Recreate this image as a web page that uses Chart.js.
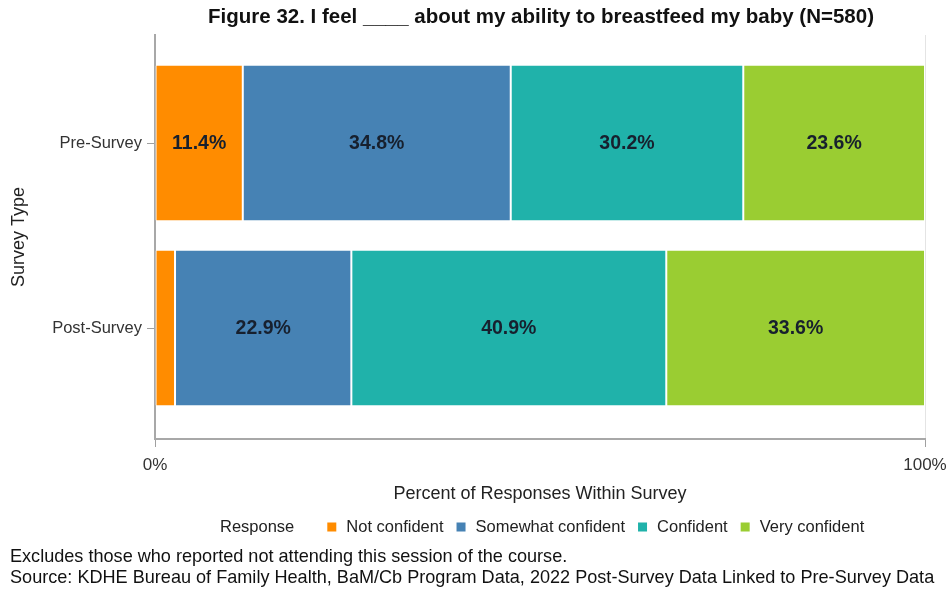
<!DOCTYPE html>
<html>
<head>
<meta charset="utf-8">
<script src="https://cdn.jsdelivr.net/npm/chart.js@4"></script>
<style>
html,body{margin:0;padding:0;background:#fff;}
#wrap{width:949px;height:592px;position:relative;}
</style>
</head>
<body>
<div id="wrap"><canvas id="c" width="949" height="592"></canvas></div>
<script>
// ---- data ----
const categories = ['Pre-Survey', 'Post-Survey'];
const seriesNames = ['Not confident', 'Somewhat confident', 'Confident', 'Very confident'];
const notConfident = [11.4, 2.6];
const somewhatConfident = [34.8, 22.9];
const confident = [30.2, 40.9];
const veryConfident = [23.6, 33.6];
const xTickValues = [0, 100];
const xTickLabels = ['0%', '100%'];

const titleText = 'Figure 32. I feel ____ about my ability to breastfeed my baby (N=580)';
const xTitle = 'Percent of Responses Within Survey';
const yTitle = 'Survey Type';
const legendTitle = 'Response';
const footnotes = [
  'Excludes those who reported not attending this session of the course.',
  'Source: KDHE Bureau of Family Health, BaM/Cb Program Data, 2022 Post-Survey Data Linked to Pre-Survey Data'
];

const colors = ['#FF8C00', '#4682B4', '#20B2AA', '#9ACD32'];
const FONT = "Arial, 'Liberation Sans', sans-serif";

const allSeries = [notConfident, somewhatConfident, confident, veryConfident];
const datasets = allSeries.map((vals, k) => ({
  label: seriesNames[k],
  data: vals.map((v, i) => ({x: v, y: i})),
  backgroundColor: colors[k],
  borderColor: '#ffffff',
  borderWidth: {left: 1, right: 1, top: 0, bottom: 0},
  borderSkipped: false,
  categoryPercentage: 0.838,
  barPercentage: 1.0
}));

const labelPlugin = {
  id: 'barLabels',
  afterDatasetsDraw(chart) {
    const ctx = chart.ctx;
    ctx.save();
    ctx.font = 'bold 19.5px ' + FONT;
    ctx.fillStyle = '#17202e';
    ctx.textAlign = 'center';
    ctx.textBaseline = 'middle';
    chart.data.datasets.forEach((ds, di) => {
      const meta = chart.getDatasetMeta(di);
      meta.data.forEach((el, i) => {
        const v = ds.data[i].x;
        if (v < 5) return;
        const c = el.getCenterPoint();
        ctx.fillText(v.toFixed(1) + '%', c.x, c.y + 1);
      });
    });
    ctx.restore();
  }
};

const decorPlugin = {
  id: 'decor',
  afterDraw(chart) {
    const ctx = chart.ctx;
    ctx.save();
    // title
    ctx.font = 'bold 20.5px ' + FONT;
    ctx.fillStyle = '#111';
    ctx.textAlign = 'center';
    ctx.textBaseline = 'middle';
    ctx.fillText(titleText, 541, 17);
    // legend
    ctx.font = '16.5px ' + FONT;
    ctx.textAlign = 'left';
    const box = 9, boxGap = 10, itemGap = 13, titleGap = 33;
    let x = 220;
    const ly = 527;
    ctx.fillStyle = '#222';
    ctx.fillText(legendTitle, x, ly);
    x += ctx.measureText(legendTitle).width + titleGap;
    chart.data.datasets.forEach((ds) => {
      ctx.fillStyle = ds.backgroundColor;
      ctx.fillRect(x, ly - box / 2, box, box);
      x += box + boxGap;
      ctx.fillStyle = '#222';
      ctx.fillText(ds.label, x, ly);
      x += ctx.measureText(ds.label).width + itemGap;
    });
    // footnotes
    ctx.font = '18.1px ' + FONT;
    ctx.fillStyle = '#111';
    ctx.fillText(footnotes[0], 10, 557);
    ctx.fillText(footnotes[1], 10, 578);
    ctx.restore();
  }
};

new Chart(document.getElementById('c'), {
  type: 'bar',
  data: {datasets},
  plugins: [labelPlugin, decorPlugin],
  options: {
    indexAxis: 'y',
    responsive: false,
    animation: false,
    layout: {padding: {top: 35, right: 24, bottom: 84, left: 0}},
    plugins: {
      legend: {display: false},
      title: {display: false},
      tooltip: {enabled: false}
    },
    scales: {
      x: {
        type: 'linear',
        stacked: true,
        min: 0,
        max: 100,
        afterBuildTicks(scale) { scale.ticks = xTickValues.map(v => ({value: v})); },
        afterFit(scale) { scale.height = 69; scale.paddingLeft = 0; scale.paddingRight = 0; },
        ticks: {
          callback: (v) => xTickLabels[xTickValues.indexOf(v)],
          font: {size: 17, family: FONT},
          color: '#333',
          padding: 8,
          maxRotation: 0
        },
        grid: {
          color: (c) => (c.tick && c.tick.value === 100) ? '#e4e4e4' : 'rgba(0,0,0,0)',
          tickColor: '#a0a0a0',
          tickLength: 8,
          lineWidth: 1
        },
        border: {display: true, color: '#a8a8a8', width: 2},
        title: {
          display: true,
          text: xTitle,
          font: {size: 18, family: FONT},
          color: '#222',
          padding: {top: 4, bottom: 3}
        }
      },
      y: {
        type: 'linear',
        stacked: true,
        reverse: true,
        offset: false,
        min: -0.5838,
        max: 1.6,
        afterBuildTicks(scale) { scale.ticks = categories.map((c, i) => ({value: i})); },
        afterFit(scale) { scale.width = 155; },
        ticks: {
          callback: (v) => categories[v],
          font: {size: 16.5, family: FONT},
          color: '#333',
          padding: 5
        },
        grid: {
          offset: false,
          drawOnChartArea: false,
          tickColor: '#a0a0a0',
          tickLength: 8
        },
        border: {display: true, color: '#a8a8a8', width: 2},
        title: {
          display: true,
          text: yTitle,
          font: {size: 18, family: FONT},
          color: '#222',
          padding: {top: 8, bottom: 4}
        }
      }
    }
  }
});
</script>
</body>
</html>
